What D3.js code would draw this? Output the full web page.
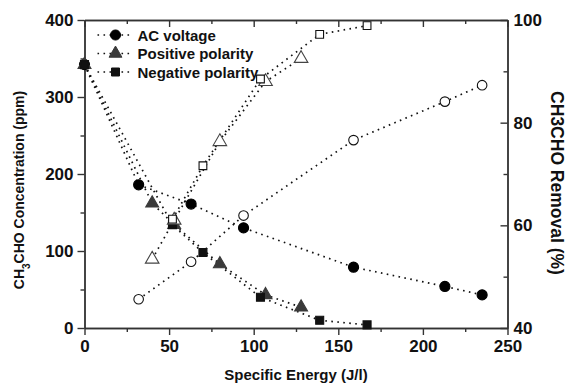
<!DOCTYPE html>
<html>
<head>
<meta charset="utf-8">
<script src="https://cdn.jsdelivr.net/npm/d3@7"></script>
<style>
  body { margin: 0; background: #fff; }
  svg text { font-family: "Liberation Sans", Arial, sans-serif; font-weight: bold; fill: #111; }
  .axis path, .axis line { stroke: #333; stroke-width: 1.4; }
  .trace { fill: none; stroke: #111; stroke-width: 1.7; stroke-dasharray: 1.6 4.4; }
</style>
</head>
<body>
<div id="chart"></div>
<script>
// concentration series (left axis, ppm) - filled markers
const acX = [0, 32, 63, 94, 159, 213, 235];
const acConc = [342, 186, 161, 130, 79, 54, 43];
const posX = [0, 40, 53, 80, 107, 128];
const posConc = [342, 162, 134, 83, 43, 27];
const negX = [0, 52, 70, 104, 139, 167];
const negConc = [342, 134, 98, 40, 10, 4];

// removal series (right axis, %) - open markers
const acRemX = [32, 63, 94, 159, 213, 235];
const acRem = [45.6, 52.9, 61.9, 76.6, 84.1, 87.3];
const posRemX = [40, 53, 80, 107, 128];
const posRem = [53.4, 61.0, 76.3, 88.0, 92.5];
const negRemX = [52, 70, 104, 139, 167];
const negRem = [61.2, 71.6, 88.5, 97.2, 98.9];

const legendLabels = ["AC voltage", "Positive polarity", "Negative polarity"];
const xTicks = [0, 50, 100, 150, 200, 250];
const yLeftTicks = [0, 100, 200, 300, 400];
const yRightTicks = [40, 60, 80, 100];

const width = 570, height = 387;
const margin = {top: 20, right: 62.5, bottom: 59, left: 84.5};
const w = width - margin.left - margin.right;
const h = height - margin.top - margin.bottom;

const svg = d3.select("#chart").append("svg")
    .attr("width", width)
    .attr("height", height);

const g = svg.append("g")
    .attr("transform", "translate(" + margin.left + "," + margin.top + ")");

// scales
const x = d3.scaleLinear().domain([0, 250]).range([0, w]);
const yL = d3.scaleLinear().domain([0, 400]).range([h, 0]);
const yR = d3.scaleLinear().domain([40, 100]).range([h, 0]);

const minor = (arr) => arr.slice(0, -1).map((d, i) => (d + arr[i + 1]) / 2);

// bottom axis
g.append("g").attr("class", "axis")
    .attr("transform", "translate(0," + h + ")")
    .call(d3.axisBottom(x).tickValues(minor(xTicks)).tickSize(4).tickSizeOuter(0).tickFormat(""));
g.append("g").attr("class", "axis x-axis")
    .attr("transform", "translate(0," + h + ")")
    .call(d3.axisBottom(x).tickValues(xTicks).tickSize(7).tickSizeOuter(0).tickPadding(5));

// top axis (ticks inward, no labels)
g.append("g").attr("class", "axis")
    .call(d3.axisTop(x).tickValues(minor(xTicks)).tickSize(-4).tickSizeOuter(0).tickFormat(""));
g.append("g").attr("class", "axis")
    .call(d3.axisTop(x).tickValues(xTicks).tickSize(-7).tickSizeOuter(0).tickFormat(""));

// left axis
g.append("g").attr("class", "axis")
    .call(d3.axisLeft(yL).tickValues(minor(yLeftTicks)).tickSize(4).tickSizeOuter(0).tickFormat(""));
g.append("g").attr("class", "axis y-axis")
    .call(d3.axisLeft(yL).tickValues(yLeftTicks).tickSize(7).tickSizeOuter(0).tickPadding(4));

// right axis (ticks inward)
g.append("g").attr("class", "axis")
    .attr("transform", "translate(" + w + ",0)")
    .call(d3.axisRight(yR).tickValues(minor(yRightTicks)).tickSize(-4).tickSizeOuter(0).tickFormat(""));
g.append("g").attr("class", "axis y-axis")
    .attr("transform", "translate(" + w + ",0)")
    .call(d3.axisRight(yR).tickValues(yRightTicks).tickSize(-7).tickSizeOuter(0).tickPadding(6));

g.selectAll(".x-axis text, .y-axis text")
    .style("font-size", "17px")
    .style("font-family", "\"Liberation Sans\", Arial, sans-serif")
    .style("font-weight", "bold")
    .attr("fill", "#111");

// series
const series = [
    {xs: acX, ys: acConc, y: yL, sym: d3.symbolCircle, size: 80, fill: "#000", stroke: "#000"},
    {xs: posX, ys: posConc, y: yL, sym: d3.symbolTriangle, size: 72, fill: "#3a3a3a", stroke: "#3a3a3a"},
    {xs: negX, ys: negConc, y: yL, sym: d3.symbolSquare, size: 64, fill: "#111", stroke: "#111"},
    {xs: acRemX, ys: acRem, y: yR, sym: d3.symbolCircle, size: 72, fill: "#fff", stroke: "#111"},
    {xs: posRemX, ys: posRem, y: yR, sym: d3.symbolTriangle, size: 80, fill: "#fff", stroke: "#444"},
    {xs: negRemX, ys: negRem, y: yR, sym: d3.symbolSquare, size: 60, fill: "#fff", stroke: "#111"}
];

series.forEach(s => {
    const pts = s.xs.map((d, i) => [d, s.ys[i]]);
    const line = d3.line().x(d => x(d[0])).y(d => s.y(d[1]));
    g.append("path").attr("class", "trace").attr("d", line(pts));
});

series.forEach(s => {
    const pts = s.xs.map((d, i) => [d, s.ys[i]]);
    g.selectAll(null).data(pts).enter().append("path")
        .attr("d", d3.symbol().type(s.sym).size(s.size))
        .attr("transform", d => "translate(" + x(d[0]) + "," + s.y(d[1]) + ")")
        .attr("fill", s.fill)
        .attr("stroke", s.stroke)
        .attr("stroke-width", 1.1);
});

// legend
const legend = g.append("g").attr("transform", "translate(13,15)");
legendLabels.forEach((label, i) => {
    const s = series[i];
    const row = legend.append("g").attr("transform", "translate(0," + (i * 18.5) + ")");
    row.append("line").attr("class", "trace").attr("x1", 0).attr("x2", 36).attr("y1", 0).attr("y2", 0);
    row.append("path")
        .attr("d", d3.symbol().type(s.sym).size(s.size))
        .attr("transform", "translate(18,0)")
        .attr("fill", s.fill)
        .attr("stroke", s.stroke);
    row.append("text").attr("x", 40).attr("y", 5.5)
        .style("font-size", "15px")
        .text(label);
});

// axis titles
svg.append("text")
    .attr("x", margin.left + w / 2)
    .attr("y", 380)
    .attr("text-anchor", "middle")
    .style("font-size", "15px")
    .text("Specific Energy (J/l)");

const leftTitle = svg.append("text")
    .attr("transform", "translate(24,190) rotate(-90)")
    .attr("text-anchor", "middle")
    .style("font-size", "14px");
leftTitle.append("tspan").text("CH");
leftTitle.append("tspan").attr("baseline-shift", "sub").style("font-size", "10px").text("3");
leftTitle.append("tspan").text("CHO Concentration (ppm)");

svg.append("text")
    .attr("transform", "translate(551,183) rotate(90)")
    .attr("text-anchor", "middle")
    .style("font-size", "17.5px")
    .text("CH3CHO Removal (%)");
</script>
</body>
</html>
